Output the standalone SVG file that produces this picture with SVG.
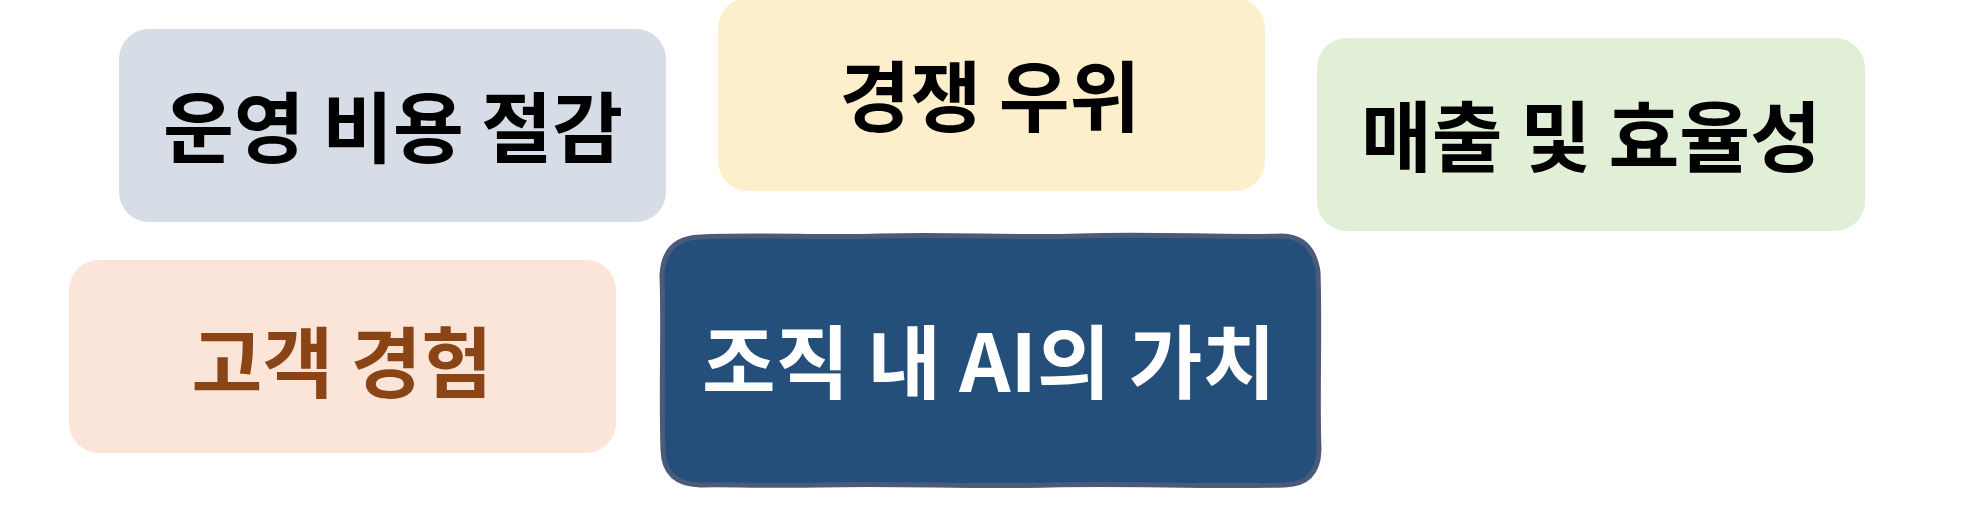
<svg xmlns="http://www.w3.org/2000/svg" width="1969" height="528" viewBox="0 0 1969 528">
<style>
.lbl{font-family:"Noto Sans CJK KR","Noto Sans",sans-serif;font-weight:700;text-anchor:middle}
</style>
<rect x="0" y="0" width="1969" height="528" fill="#ffffff"/>
<g id="connectors"/>
<g id="node-cost">
<rect x="119" y="29" width="547" height="193" rx="30" ry="30" fill="#d7dde7"/>
<text class="lbl" x="393" y="157" font-size="77" fill="#000000">운영 비용 절감</text>
</g>
<g id="node-competitive">
<rect x="718" y="-2" width="547" height="193" rx="30" ry="30" fill="#fdefcb"/>
<text class="lbl" x="990" y="126" font-size="77" fill="#000000">경쟁 우위</text>
</g>
<g id="node-revenue">
<rect x="1317" y="38" width="548" height="193" rx="30" ry="30" fill="#e1efd7"/>
<text class="lbl" x="1591" y="166" font-size="77" fill="#000000">매출 및 효율성</text>
</g>
<g id="node-customer">
<rect x="69" y="260" width="547" height="193" rx="30" ry="30" fill="#fbe5d8"/>
<text class="lbl" x="342" y="392" font-size="77" fill="#8a4416">고객 경험</text>
</g>
<g id="node-center">
<path d="M 700,237 C 760,234 820,238 880,236 C 950,234 1010,238 1080,236 C 1150,233 1220,238 1282,236 Q 1313,237 1318,272 C 1320,330 1317,400 1319,450 Q 1318,484 1285,485 C 1200,487 1130,483 1050,485 C 970,487 900,483 820,485 C 760,486 720,484 700,485 Q 664,484 663,450 C 661,390 664,330 662,275 Q 664,238 700,237 Z" fill="#234f7a" stroke="#4a5a78" stroke-width="5" stroke-linejoin="round"/>
<text class="lbl" x="989" y="392" font-size="80" fill="#ffffff">조직 내 AI의 가치</text>
</g>
</svg>
